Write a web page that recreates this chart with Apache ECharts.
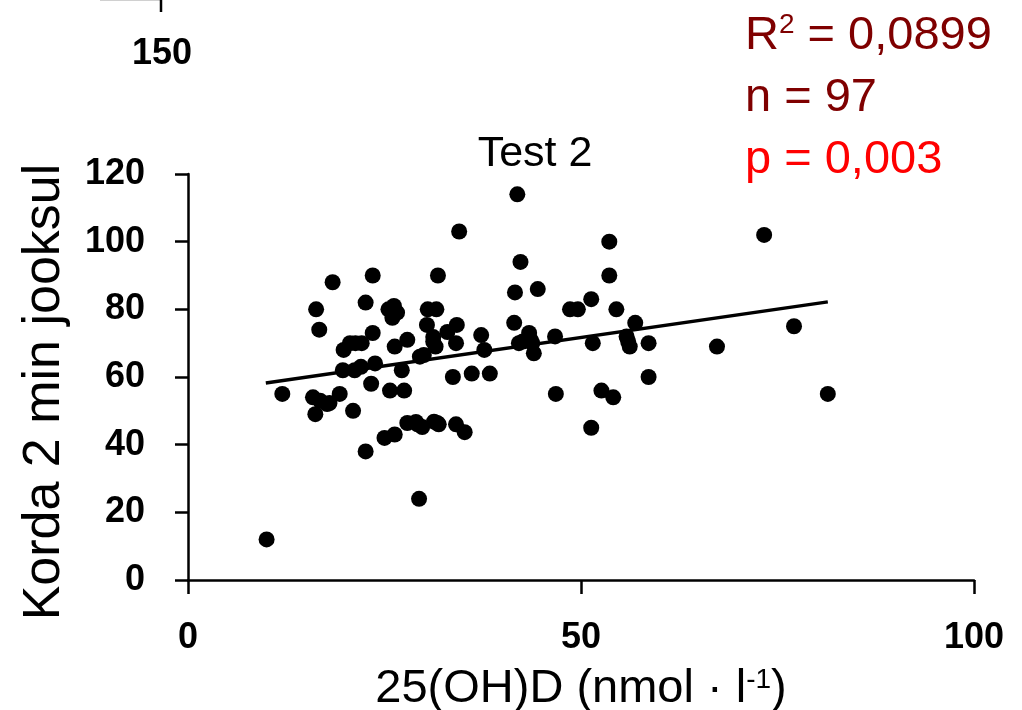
<!DOCTYPE html>
<html lang="et">
<head>
    <meta charset="UTF-8">
    <title>Test 2</title>
    <script type="text/javascript" src="https://cdn.jsdelivr.net/npm/echarts@6/dist/echarts.min.js"></script>
    <style>
        html, body { margin: 0; padding: 0; background: #fff; }
    </style>
</head>
<body>
<div id="chart" style="width: 1022px;height: 710px"></div>
<script type="text/javascript">
    // 25(OH)D väärtused (x) ja korda 2 min jooksul (y)
    var vitD = [10, 12, 16.3, 16.7, 15.9, 16.8, 17.7, 16.2, 18.4, 19.3,
        19.8, 19.7, 20.6, 22.1, 21, 21.2, 22, 22.6, 22.6, 23.5,
        23.5, 23.8, 23.3, 25.5, 26.2, 26, 26.3, 27.9, 27.2, 25.7,
        27.5, 25, 26.3, 27.9, 29, 29.8, 29.4, 29.5, 30, 30.5,
        31.6, 31.8, 30.4, 31.2, 31.5, 33, 34.2, 34.1, 33.7, 31.7,
        31.9, 34.1, 35.2, 34.5, 37.3, 37.7, 36.1, 38.4, 41.9, 42.3,
        41.6, 44.5, 41.5, 43.4, 42.1, 43.8, 44, 46.7, 46.8, 48.6,
        49.6, 51.3, 51.5, 51.3, 52.6, 54.1, 53.6, 53.6, 54.5, 56.9,
        55.8, 56.2, 58.6, 58.6, 67.3, 73.3, 77.1, 81.4, 21.3, 31.3,
        42.6, 26.6, 56.0, 18.0, 29.2, 31.2, 43.6];
    var korda = [12, 55, 80, 74, 54, 53, 52, 49, 88, 55,
        68, 62, 70, 70, 50, 62, 63, 82, 38, 90,
        73, 64, 58, 80, 81, 77.5, 69, 71, 62, 56,
        56, 42, 43, 46.4, 46.7, 45.2, 24, 66, 66.5, 80,
        80, 90, 75.4, 71.8, 69, 73.3, 75.4, 70, 60, 46.4,
        46, 46, 43.7, 103, 72.4, 68, 61, 61, 114, 94,
        85, 86, 76, 73, 70, 70, 67, 72, 55, 80,
        80, 83, 70, 45, 56, 54, 100, 90, 80, 76,
        72, 69, 70, 60, 69, 102, 75, 55, 70, 46.8,
        70.5, 79, 70.5, 52.3, 46, 70.5, 71];
    // trendijoone otspunktid
    var trendX = [9.9, 81.4];
    var trendY = [58.2, 82.2];
    var xTicks = [0, 50, 100];
    var yTicks = [0, 20, 40, 60, 80, 100, 120];

    var points = [];
    for (var i = 0; i < vitD.length; i++) {
        points.push([vitD[i], korda[i]]);
    }
    var trend = [[trendX[0], trendY[0]], [trendX[1], trendY[1]]];

    var FONT = 'Liberation Sans';
    var myChart = echarts.init(document.getElementById('chart'));
    var option = {
        backgroundColor: '#fff',
        animation: false,
        title: {
            text: 'Test 2',
            left: 530,
            top: 128,
            textAlign: 'center',
            textStyle: {fontFamily: FONT, fontSize: 43, fontWeight: 'normal', color: '#000'}
        },
        grid: {left: 188, right: 48, top: 174, bottom: 130, containLabel: false, outerBoundsMode: 'none'},
        xAxis: {
            type: 'value',
            min: xTicks[0],
            max: xTicks[xTicks.length - 1],
            interval: xTicks[1] - xTicks[0],
            splitLine: {show: false},
            axisLine: {lineStyle: {color: '#000', width: 2.5}},
            axisTick: {length: 14, lineStyle: {color: '#000', width: 2.5}},
            axisLabel: {fontFamily: FONT, fontSize: 36, fontWeight: 'bold', color: '#000', margin: 40},
            name: '25(OH)D (nmol · l{sup|-1})',
            nameLocation: 'middle',
            nameGap: 86,
            nameTextStyle: {
                fontFamily: FONT, fontSize: 47, color: '#000',
                rich: {sup: {fontFamily: FONT, fontSize: 28, color: '#000', verticalAlign: 'top', padding: [0, 0, 16, 0]}}
            }
        },
        yAxis: {
            type: 'value',
            min: yTicks[0],
            max: yTicks[yTicks.length - 1],
            interval: yTicks[1] - yTicks[0],
            splitLine: {show: false},
            axisLine: {lineStyle: {color: '#000', width: 2.5}},
            axisTick: {length: 13, lineStyle: {color: '#000', width: 2.5}},
            axisLabel: {fontFamily: FONT, fontSize: 36, fontWeight: 'bold', color: '#000', margin: 43},
            name: 'Korda 2 min jooksul',
            nameLocation: 'middle',
            nameGap: 117,
            nameTextStyle: {fontFamily: FONT, fontSize: 52, color: '#000', padding: [0, 30, 0, 0]}
        },
        graphic: [
            {type: 'line', shape: {x1: 100, y1: 0.5, x2: 160, y2: 0.5}, style: {stroke: '#d0d0d0', lineWidth: 1}},
            {type: 'line', shape: {x1: 161, y1: 0, x2: 161, y2: 12}, style: {stroke: '#000', lineWidth: 2.5}},
            {type: 'text', x: 162, y: 54, style: {text: '150', fontFamily: FONT, fontSize: 36, fontWeight: 'bold', fill: '#000', align: 'center', verticalAlign: 'middle'}},
            {type: 'text', x: 745, y: 36, style: {
                text: 'R{sup|2} = 0,0899', fontFamily: FONT, fontSize: 47, fill: '#7f0000', verticalAlign: 'middle',
                rich: {sup: {fontFamily: FONT, fontSize: 28, fill: '#7f0000', padding: [0, 0, 22, 0]}}
            }},
            {type: 'text', x: 745, y: 98, style: {text: 'n = 97', fontFamily: FONT, fontSize: 47, fill: '#7f0000', verticalAlign: 'middle'}},
            {type: 'text', x: 745, y: 160, style: {text: 'p = 0,003', fontFamily: FONT, fontSize: 47, fill: '#ff0000', verticalAlign: 'middle'}}
        ],
        series: [
            {
                name: 'trend',
                type: 'line',
                data: trend,
                showSymbol: false,
                symbol: 'none',
                lineStyle: {color: '#000', width: 3.5},
                z: 2
            },
            {
                name: 'Korda',
                type: 'scatter',
                data: points,
                symbolSize: 16,
                itemStyle: {color: '#000', opacity: 1},
                z: 3
            }
        ]
    };
    myChart.setOption(option);
</script>
</body>
</html>
